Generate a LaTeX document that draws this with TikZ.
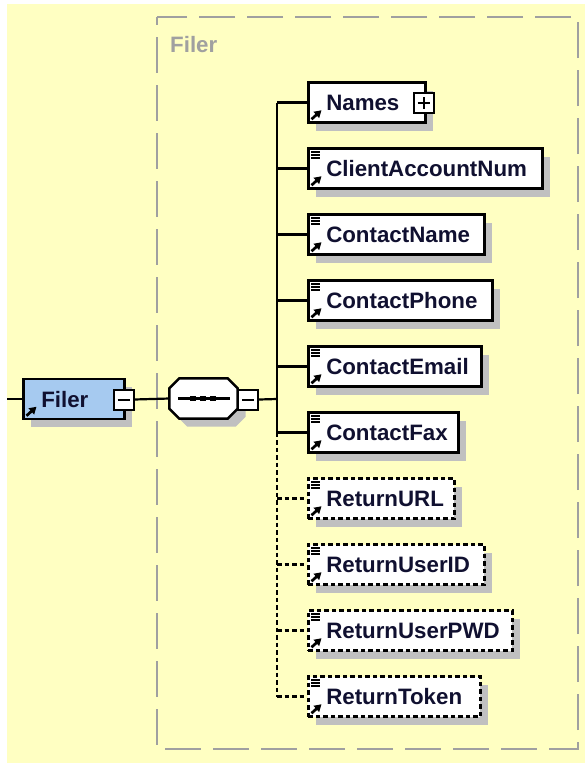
\documentclass[tikz,border=0pt]{standalone}
\usepackage{fontspec}
\setmainfont{Liberation Sans}
\usetikzlibrary{arrows.meta,shadows}
\definecolor{bg}{RGB}{255,255,194}
\definecolor{shad}{RGB}{192,192,192}
\definecolor{grp}{RGB}{160,160,160}
\definecolor{txt}{RGB}{16,16,48}
\definecolor{fblue}{RGB}{166,202,240}
\newcommand\arrowicon[1]{\draw[line width=2.7pt,-{Triangle[length=7pt,width=8pt]}] ([xshift=4.5pt,yshift=4.5pt]#1.south west) -- ++(10,-9);}
\newcommand\linesicon[1]{\foreach \d in {4.5,7.5,10.5} \draw[line width=1.5pt] ([xshift=4pt,yshift=-\d pt]#1.north west) -- ++(8.5,0);}
\begin{document}
\begin{tikzpicture}[x=1pt,y=-1pt,
  every node/.style={font=\fontsize{22.3}{24}\bfseries\selectfont, text=txt},
  elem/.style={draw=black, line width=2.5pt, fill=white, anchor=west, minimum height=40pt,
    inner xsep=0pt, inner ysep=0pt, text height=16pt, text depth=0pt, align=left, text width=#1,
    drop shadow={shadow xshift=8pt,shadow yshift=-8pt,fill=shad,opacity=1}},
  opt/.style={elem=#1, dash pattern=on 4.5pt off 3pt},
  pm/.style={draw=black, line width=2pt, fill=white, minimum size=20pt, inner sep=0pt},
  conn/.style={line width=2.2pt, draw=black},
  optconn/.style={conn, dash pattern=on 4.5pt off 3pt},
]
\useasboundingbox (0,0) rectangle (585,763);
\fill[bg] (7,4) rectangle (585,763);
% group box
\draw[grp, line width=2.2pt, dash pattern=on 36pt off 12pt, dash phase=28pt] (157,17) rectangle (578,749);
\node[anchor=base west, text=grp, inner sep=0pt] (grplabel) at (170,52) {Filer};

% root element
\node[elem=101pt, fill=fblue] (filer) at (22,399) {\hspace*{18pt}Filer};
\arrowicon{filer}
\node[pm] (filerm) at (123.5,399.5) {};
\draw[line width=2pt] ([xshift=-6pt]filerm.center) -- ([xshift=6pt]filerm.center);

% sequence compositor
\node[minimum width=68pt, minimum height=40pt, inner sep=0pt] (seq) at (203.5,398.5) {};
\fill[shad] ([xshift=8pt,yshift=-8pt]seq.west) -- ([xshift=18pt,yshift=-8pt]seq.north west)
  -- ([xshift=-2pt,yshift=-8pt]seq.north east) -- ([xshift=8pt,yshift=-18pt]seq.north east)
  -- ([xshift=8pt,yshift=2pt]seq.south east) -- ([xshift=-2pt,yshift=-8pt]seq.south east)
  -- ([xshift=18pt,yshift=-8pt]seq.south west) -- ([xshift=8pt,yshift=2pt]seq.south west) -- cycle;
\draw[line width=2.5pt, fill=white] (seq.west) -- ([yshift=-10pt]seq.north west) -- ([xshift=10pt]seq.north west)
  -- ([xshift=-10pt]seq.north east) -- ([yshift=-10pt]seq.north east) -- ([yshift=10pt]seq.south east)
  -- ([xshift=-10pt]seq.south east) -- ([xshift=10pt]seq.south west) -- ([yshift=10pt]seq.south west) -- cycle;
\draw[line width=2.2pt] ([xshift=-25.5pt]seq.center) -- ([xshift=26.5pt]seq.center);
\foreach \dx in {-10.5,-0.5,9.5} \fill ([xshift=\dx pt]seq.center) +(-3.3,-2.8) rectangle +(3.3,2.8);
\node[pm] (seqm) at (248,399.5) {};
\draw[line width=2pt] ([xshift=-6pt]seqm.center) -- ([xshift=6pt]seqm.center);

\coordinate (start) at (7,399);
\coordinate (bus) at (277,399);

% children
\node[elem=117pt] (names) at (307,102.5) {\hspace*{18pt}Names};
\arrowicon{names}
\node[pm] (namesp) at (423.5,102.5) {};
\draw[line width=2pt] ([xshift=-6pt]namesp.center) -- ([xshift=6pt]namesp.center);
\draw[line width=2pt] ([yshift=-6pt]namesp.center) -- ([yshift=6pt]namesp.center);

\node[elem=234pt] (client) at (307,168.5) {\hspace*{18pt}ClientAccountNum};
\node[elem=176pt] (cname) at (307,234.5) {\hspace*{18pt}ContactName};
\node[elem=184pt] (phone) at (307,300.5) {\hspace*{18pt}ContactPhone};
\node[elem=173pt] (email) at (307,366.5) {\hspace*{18pt}ContactEmail};
\node[elem=150pt] (fax) at (307,432.5) {\hspace*{18pt}ContactFax};
\node[opt=146pt] (url) at (307,498.5) {\hspace*{18pt}ReturnURL};
\node[opt=176pt] (uid) at (307,564.5) {\hspace*{18pt}ReturnUserID};
\node[opt=204pt] (pwd) at (307,630.5) {\hspace*{18pt}ReturnUserPWD};
\node[opt=172pt] (token) at (307,696.5) {\hspace*{18pt}ReturnToken};

\foreach \n in {client,cname,phone,email,fax,url,uid,pwd,token} {\linesicon{\n}\arrowicon{\n}}

% connectors
\draw[conn] (start) -- (filer.west);
\draw[conn] (filerm.east) -- (seq.west);
\draw[conn] (seqm.east) -- (bus);
\draw[conn] (bus |- names.west) -- (bus |- fax.west);
\draw[optconn] (bus |- fax.west) -- (bus |- token.west);
\foreach \n in {names,client,cname,phone,email,fax} \draw[conn] (bus |- \n.west) -- (\n.west);
\foreach \n in {url,uid,pwd,token} \draw[optconn] (bus |- \n.west) -- (\n.west);
\end{tikzpicture}
\end{document}
